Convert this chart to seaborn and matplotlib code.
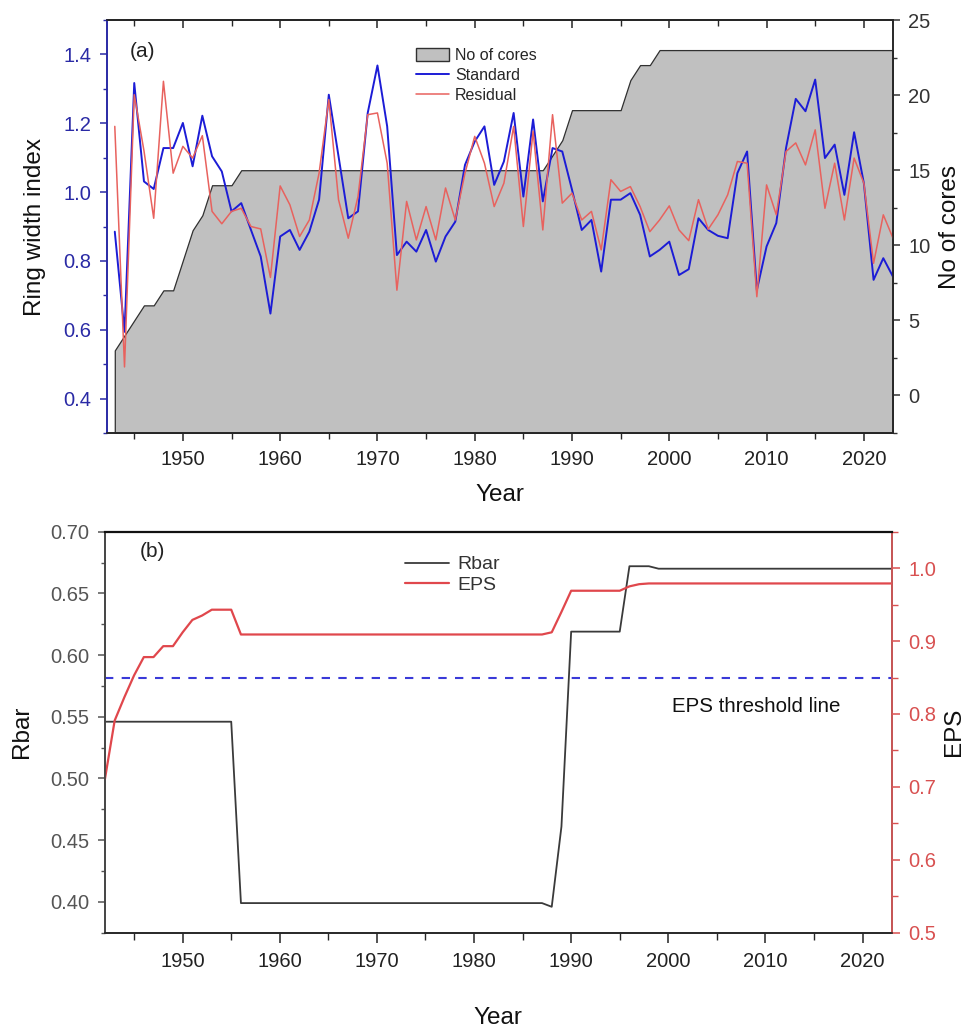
import matplotlib
matplotlib.use("Agg")
import matplotlib.pyplot as plt
import seaborn as sns
from matplotlib.ticker import MultipleLocator, FormatStrFormatter
from matplotlib.patches import Patch
from matplotlib.lines import Line2D

# ---------------- data ----------------
years_a = list(range(1943, 2024))

standard = [0.885, 0.594, 1.317, 1.031, 1.009, 1.128, 1.128, 1.201, 1.075, 1.222,
            1.104, 1.060, 0.944, 0.968, 0.890, 0.813, 0.647, 0.871, 0.890, 0.832,
            0.885, 0.978, 1.283, 1.104, 0.924, 0.944, 1.230, 1.368, 1.191, 0.817,
            0.856, 0.827, 0.890, 0.798, 0.871, 0.914, 1.079, 1.147, 1.191, 1.021,
            1.089, 1.230, 0.987, 1.211, 0.973, 1.128, 1.118, 1.007, 0.890, 0.919,
            0.769, 0.978, 0.978, 0.997, 0.934, 0.813, 0.832, 0.856, 0.759, 0.776,
            0.924, 0.890, 0.873, 0.866, 1.055, 1.118, 0.715, 0.842, 0.910, 1.128,
            1.271, 1.235, 1.327, 1.099, 1.138, 0.992, 1.174, 1.026, 0.745, 0.808,
            0.754]

residual = [1.191, 0.492, 1.283, 1.120, 0.924, 1.322, 1.055, 1.133, 1.099, 1.164,
            0.944, 0.908, 0.944, 0.953, 0.900, 0.893, 0.752, 1.018, 0.963, 0.871,
            0.919, 1.055, 1.269, 0.978, 0.866, 0.987, 1.225, 1.230, 1.084, 0.715,
            0.973, 0.861, 0.958, 0.861, 1.012, 0.919, 1.055, 1.162, 1.084, 0.958,
            1.026, 1.191, 0.900, 1.177, 0.890, 1.225, 0.968, 0.997, 0.919, 0.944,
            0.832, 1.036, 1.002, 1.016, 0.958, 0.885, 0.919, 0.960, 0.890, 0.859,
            0.978, 0.892, 0.934, 0.992, 1.089, 1.084, 0.696, 1.021, 0.934, 1.118,
            1.143, 1.079, 1.181, 0.953, 1.084, 0.919, 1.099, 1.026, 0.793, 0.934,
            0.866]

cores = [3, 4, 5, 6, 6, 7, 7, 9, 11, 12,
         14, 14, 14, 15, 15, 15, 15, 15, 15, 15,
         15, 15, 15, 15, 15, 15, 15, 15, 15, 15,
         15, 15, 15, 15, 15, 15, 15, 15, 15, 15,
         15, 15, 15, 15, 15, 16, 17, 19, 19, 19,
         19, 19, 19, 21, 22, 22, 23, 23, 23, 23,
         23, 23, 23, 23, 23, 23, 23, 23, 23, 23,
         23, 23, 23, 23, 23, 23, 23, 23, 23, 23,
         23]

years_b = list(range(1942, 2024))

rbar = [0.546, 0.546, 0.546, 0.546, 0.546, 0.546, 0.546, 0.546, 0.546, 0.546,
        0.546, 0.546, 0.546, 0.546, 0.399, 0.399, 0.399, 0.399, 0.399, 0.399,
        0.399, 0.399, 0.399, 0.399, 0.399, 0.399, 0.399, 0.399, 0.399, 0.399,
        0.399, 0.399, 0.399, 0.399, 0.399, 0.399, 0.399, 0.399, 0.399, 0.399,
        0.399, 0.399, 0.399, 0.399, 0.399, 0.399, 0.396, 0.461, 0.619, 0.619,
        0.619, 0.619, 0.619, 0.619, 0.672, 0.672, 0.672, 0.670, 0.670, 0.670,
        0.670, 0.670, 0.670, 0.670, 0.670, 0.670, 0.670, 0.670, 0.670, 0.670,
        0.670, 0.670, 0.670, 0.670, 0.670, 0.670, 0.670, 0.670, 0.670, 0.670,
        0.670, 0.670]

eps = [0.711, 0.791, 0.823, 0.853, 0.878, 0.878, 0.893, 0.893, 0.912, 0.929,
       0.935, 0.943, 0.943, 0.943, 0.909, 0.909, 0.909, 0.909, 0.909, 0.909,
       0.909, 0.909, 0.909, 0.909, 0.909, 0.909, 0.909, 0.909, 0.909, 0.909,
       0.909, 0.909, 0.909, 0.909, 0.909, 0.909, 0.909, 0.909, 0.909, 0.909,
       0.909, 0.909, 0.909, 0.909, 0.909, 0.909, 0.912, 0.940, 0.969, 0.969,
       0.969, 0.969, 0.969, 0.969, 0.975, 0.978, 0.979, 0.979, 0.979, 0.979,
       0.979, 0.979, 0.979, 0.979, 0.979, 0.979, 0.979, 0.979, 0.979, 0.979,
       0.979, 0.979, 0.979, 0.979, 0.979, 0.979, 0.979, 0.979, 0.979, 0.979,
       0.979, 0.979]

eps_threshold = 0.85

# ---------------- style ----------------
sns.set_theme(style="ticks")
plt.rcParams["font.family"] = ["Liberation Sans", "DejaVu Sans"]
plt.rcParams["axes.linewidth"] = 1.2

TICK_FS = 14.5
LABEL_FS = 17.5

BLUE = "#1c1cd6"
RED_RES = "#e8625e"
AX_BLUE = "#2a2aa5"
EPS_RED = "#e0474c"
RBAR_GREY = "#3a3a3a"

fig = plt.figure(figsize=(9.71, 10.28), dpi=100)

# ================= panel (a) =================
ax = fig.add_axes([0.1102, 0.5788, 0.8095, 0.4017])
ax2 = ax.twinx()

ax2.fill_between(years_a, cores, -2.5, facecolor="#c0c0c0",
                 edgecolor="#303030", linewidth=0.9)
ax.set_zorder(ax2.get_zorder() + 1)
ax.patch.set_visible(False)

sns.lineplot(x=years_a, y=standard, ax=ax, color=BLUE, linewidth=1.4,
             legend=False)
sns.lineplot(x=years_a, y=residual, ax=ax, color=RED_RES, linewidth=1.1,
             legend=False)

ax.set_xlim(1942.2, 2023)
ax.set_ylim(0.3, 1.5)
ax2.set_ylim(-2.5, 25)

ax.xaxis.set_major_locator(MultipleLocator(10))
ax.xaxis.set_minor_locator(MultipleLocator(5))
ax.yaxis.set_major_locator(MultipleLocator(0.2))
ax.yaxis.set_minor_locator(MultipleLocator(0.1))
ax.yaxis.set_major_formatter(FormatStrFormatter("%.1f"))
ax2.yaxis.set_major_locator(MultipleLocator(5))
ax2.yaxis.set_minor_locator(MultipleLocator(2.5))

ax.tick_params(axis="x", which="major", direction="out", length=6, width=1.1,
               pad=6, labelsize=TICK_FS, colors="#222222")
ax.tick_params(axis="x", which="minor", direction="out", length=4, width=1.0)
ax.tick_params(axis="y", which="major", direction="out", length=5, width=1.1,
               pad=6, labelsize=TICK_FS, colors=AX_BLUE)
ax.tick_params(axis="y", which="minor", direction="out", length=3, width=1.0,
               colors=AX_BLUE)
ax2.tick_params(axis="y", which="major", direction="out", length=5, width=1.1,
                pad=6, labelsize=TICK_FS, colors="#333333")
ax2.tick_params(axis="y", which="minor", direction="out", length=3, width=1.0,
                colors="#333333")

top_a = ax.secondary_xaxis("top")
top_a.xaxis.set_major_locator(MultipleLocator(10))
top_a.xaxis.set_minor_locator(MultipleLocator(5))
top_a.tick_params(axis="x", which="major", direction="in", length=6, width=1.1,
                  labeltop=False)
top_a.tick_params(axis="x", which="minor", direction="in", length=4, width=1.0)

for side in ("top", "right", "bottom", "left"):
    ax.spines[side].set_visible(True)
    ax2.spines[side].set_visible(True)
ax.spines["left"].set_color(AX_BLUE)
ax2.spines["left"].set_color(AX_BLUE)
ax2.spines["right"].set_color("#333333")

ax.set_xlabel("Year", fontsize=LABEL_FS, labelpad=11, color="#111111")
ax.set_ylabel("Ring width index", fontsize=LABEL_FS, labelpad=13,
              color="#111111")
ax2.set_ylabel("No of cores", fontsize=LABEL_FS, labelpad=6, color="#111111")

ax.text(0.029, 0.923, "(a)", transform=ax.transAxes, fontsize=15,
        ha="left", va="center", color="#222222")

handles_a = [Patch(facecolor="#c0c0c0", edgecolor="#303030", linewidth=1.0),
             Line2D([], [], color=BLUE, linewidth=1.4),
             Line2D([], [], color=RED_RES, linewidth=1.1)]
ax.legend(handles_a, ["No of cores", "Standard", "Residual"],
          loc="upper left", bbox_to_anchor=(0.393, 0.933), frameon=False,
          fontsize=11.5, handlelength=2.1, handleheight=0.95,
          handletextpad=0.35, labelspacing=0.3, borderpad=0, borderaxespad=0)

# ================= panel (b) =================
bx = fig.add_axes([0.1081, 0.0927, 0.8102, 0.3901])
bx2 = bx.twinx()

sns.lineplot(x=years_b, y=rbar, ax=bx, color=RBAR_GREY, linewidth=1.3,
             legend=False)
sns.lineplot(x=years_b, y=eps, ax=bx2, color=EPS_RED, linewidth=1.6,
             legend=False)
bx2.axhline(eps_threshold, color="#3a3ad8", linestyle=(0, (4, 4)),
            linewidth=1.5)
bx2.text(2009.1, 0.8106, "EPS threshold line", fontsize=14.8,
         ha="center", va="center", color="#111111")

bx.set_xlim(1942, 2023)
bx.set_ylim(0.375, 0.70)
bx2.set_ylim(0.5, 1.05)

bx.xaxis.set_major_locator(MultipleLocator(10))
bx.xaxis.set_minor_locator(MultipleLocator(5))
bx.yaxis.set_major_locator(MultipleLocator(0.05))
bx.yaxis.set_minor_locator(MultipleLocator(0.025))
bx.yaxis.set_major_formatter(FormatStrFormatter("%.2f"))
bx2.yaxis.set_major_locator(MultipleLocator(0.1))
bx2.yaxis.set_minor_locator(MultipleLocator(0.05))
bx2.yaxis.set_major_formatter(FormatStrFormatter("%.1f"))

bx.tick_params(axis="x", which="major", direction="out", length=7, width=1.1,
               pad=7, labelsize=TICK_FS, colors="#222222")
bx.tick_params(axis="x", which="minor", direction="out", length=5, width=1.0)
bx.tick_params(axis="y", which="major", direction="out", length=5, width=1.1,
               pad=6, labelsize=TICK_FS, colors="#555555")
bx.tick_params(axis="y", which="minor", direction="out", length=3, width=1.0,
               colors="#555555")
bx2.tick_params(axis="y", which="major", direction="out", length=6, width=1.1,
                pad=6, labelsize=TICK_FS, colors="#d85050")
bx2.tick_params(axis="y", which="minor", direction="out", length=4, width=1.0,
                colors="#d85050")

for side in ("top", "right", "bottom", "left"):
    bx.spines[side].set_visible(True)
    bx2.spines[side].set_visible(True)
bx.spines["left"].set_color("#444444")
bx2.spines["left"].set_color("#444444")
bx2.spines["right"].set_color("#e05a5a")
bx2.spines["top"].set_color("#111111")
bx2.spines["top"].set_linewidth(1.6)

bx.set_xlabel("Year", fontsize=LABEL_FS, labelpad=26, color="#111111")
bx.set_ylabel("Rbar", fontsize=LABEL_FS, labelpad=13, color="#111111")
bx2.set_ylabel("EPS", fontsize=LABEL_FS, labelpad=5, color="#111111")

bx.text(0.0445, 0.950, "(b)", transform=bx.transAxes, fontsize=15,
        ha="left", va="center", color="#222222")

handles_b = [Line2D([], [], color=RBAR_GREY, linewidth=1.3),
             Line2D([], [], color=EPS_RED, linewidth=1.6)]
bx2.legend(handles_b, ["Rbar", "EPS"], loc="upper left",
           bbox_to_anchor=(0.381, 0.94), frameon=False, fontsize=14,
           handlelength=2.3, handletextpad=0.4, labelspacing=0.15,
           borderpad=0, borderaxespad=0, labelcolor="#333333")

fig.savefig("out.png", dpi=100)
